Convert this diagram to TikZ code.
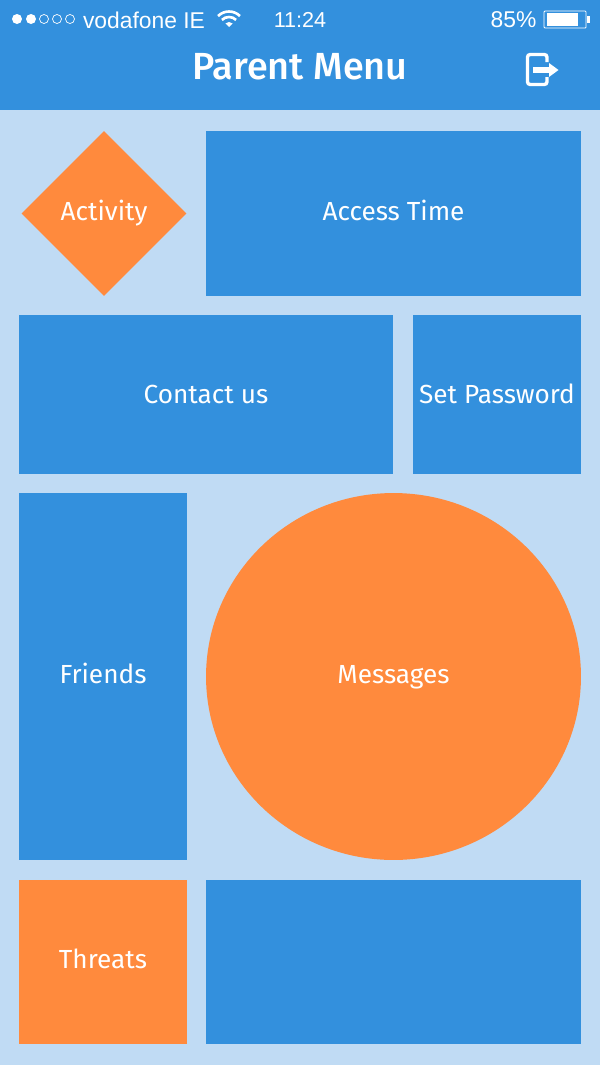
\documentclass[tikz,border=0pt]{standalone}
\usepackage{fontspec}
\setmainfont{Fira Sans}
\newfontfamily\statusfont{Liberation Sans}
\newfontfamily\titlefont{Fira Sans Medium}
\usetikzlibrary{shapes,arrows,positioning}
\definecolor{menublue}{HTML}{3390DD}
\definecolor{menuback}{HTML}{C0DBF4}
\definecolor{menuorange}{HTML}{FF8A3D}

\begin{document}
\begin{tikzpicture}[x=0.02cm, y=-0.02cm,
    tile/.style={rectangle, fill=menublue, text=white, font=\fontsize{14.9}{16}\selectfont, inner sep=0pt, text height=12pt, text depth=3.5pt},
    hot/.style={tile, fill=menuorange},
    status/.style={text=white, inner sep=0pt, font=\statusfont\fontsize{13}{14}\selectfont}]
    \useasboundingbox (0,0) rectangle (600,1065);
    \fill [menuback] (0,0) rectangle (600,1065);

    \node (header) [rectangle, fill=menublue, inner sep=0pt, minimum width=12cm, minimum height=2.2cm] at (300,55) {};
    \node (title) [text=white, inner sep=0pt, font=\titlefont\fontsize{21.5}{24}\selectfont] at (300,67) {Parent Menu};

    \node (carrier) [status] at (144,20) {vodafone IE};
    \node (clock) [status, font=\statusfont\fontsize{12.3}{14}\selectfont] at (300,20) {11:24};
    \node (charge) [status] at (513.5,20) {85\%};

    % signal dots
    \foreach \x in {17,31} \fill [white] (\x,19) circle (0.1cm);
    \foreach \x in {44,57,70} \draw [white, line width=0.4pt] (\x,19) circle (0.09cm);

    % wifi
    \fill [white] (229,27) -- ++(45:0.1cm) arc (45:135:0.1cm) -- cycle;
    \foreach \r in {0.2cm,0.31cm} \draw [white, line width=1.5pt] (229,27) ++(45:\r) arc (45:135:\r);

    % battery
    \draw [white, line width=0.5pt, rounded corners=0.5pt] (544,11) rectangle (586,28);
    \fill [white] (547,13) rectangle (578,26);
    \fill [white] (587,16) rectangle (590,23);

    % logout icon
    \draw [white, line width=1.9pt, rounded corners=1.5pt] (547,62) -- (547,54.5) -- (527.5,54.5) -- (527.5,84.5) -- (547,84.5) -- (547,77);
    \draw [white, line width=3.2pt] (533,70) -- (551,70);
    \fill [white] (549,63) -- (558.5,70) -- (549,77) -- cycle;

    \node (activity) [hot, diamond, minimum width=3.3cm, minimum height=3.3cm] at (104,213.5) {Activity};
    \node (access) [tile, minimum width=7.5cm, minimum height=3.3cm] at (393.5,213.5) {Access Time};
    \node (contact) [tile, text height=13.1pt, minimum width=7.5cm, minimum height=3.18cm] at (206,394.8) {Contact us};
    \node (password) [tile, text height=13.1pt, minimum width=3.36cm, minimum height=3.18cm] at (497,394.8) {Set Password};
    \node (friends) [tile, minimum width=3.36cm, minimum height=7.34cm] at (103,676.5) {Friends};
    \node (messages) [hot, ellipse, minimum width=7.5cm, minimum height=7.34cm] at (393.5,676.5) {Messages};
    \node (threats) [hot, text height=11.4pt, minimum width=3.36cm, minimum height=3.3cm] at (103,962) {Threats};
    \node (blank) [tile, minimum width=7.5cm, minimum height=3.3cm] at (393.5,962) {};
\end{tikzpicture}
\end{document}
